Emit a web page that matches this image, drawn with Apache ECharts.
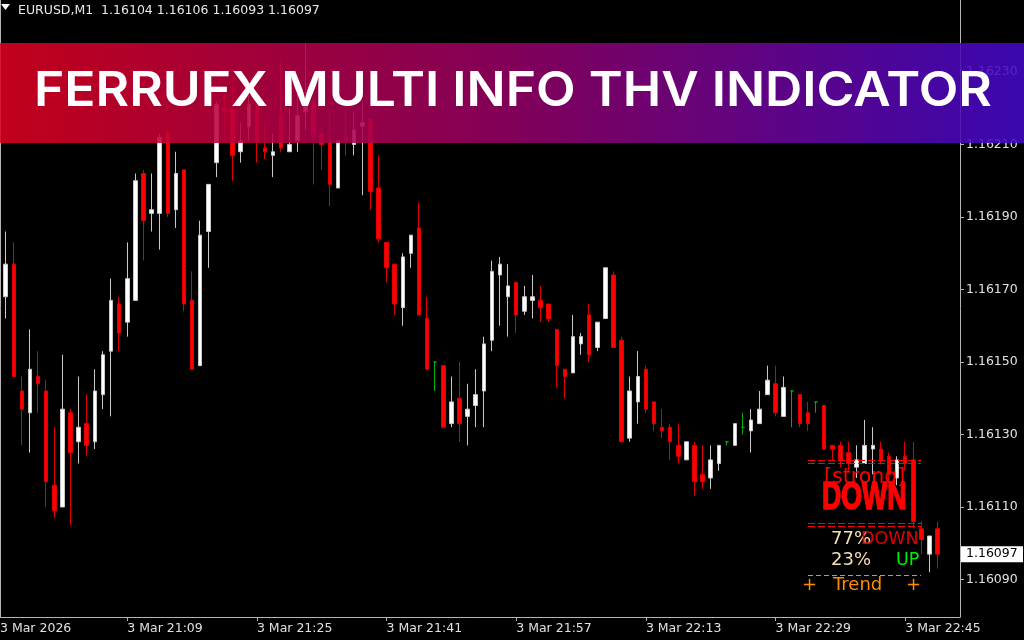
<!DOCTYPE html>
<html>
<head>
<meta charset="utf-8">
<script src="https://cdn.jsdelivr.net/npm/echarts@6/dist/echarts.min.js"></script>
<style>
html,body{margin:0;padding:0;background:#000;overflow:hidden;}
#c{width:1024px;height:640px;}
</style>
</head>
<body>
<div id="c"></div>
<script>
// ---------------- DATA ----------------
const symbol = 'EURUSD,M1';
const bannerTitle = 'FERRUFX MULTI INFO THV INDICATOR';

// one candle per minute, first candle = 3 Mar 20:54, last = 3 Mar 22:49
const opens = [
1.16168,1.16177,1.16142,1.16136,1.16146,1.16142,1.16116,1.16110,1.16136,1.16128,
1.16133,1.16128,1.16141,1.16153,1.16166,1.16161,1.16167,1.16202,1.16191,1.16191,
1.16213,1.16192,1.16203,1.16167,1.16149,1.16186,1.16205,1.16220,1.16220,1.16208,
1.16215,1.16220,1.16209,1.16207,1.16218,1.16208,1.16211,1.16219,1.16222,1.16213,
1.16211,1.16198,1.16212,1.16210,1.16215,1.16217,1.16198,1.16183,1.16177,1.16165,
1.16180,1.16187,1.16162,1.16150,1.16149,1.16133,1.16140,1.16135,1.16138,1.16142,
1.16156,1.16174,1.16168,1.16172,1.16164,1.16167,1.16167,1.16166,1.16159,1.16148,
1.16147,1.16155,1.16163,1.16154,1.16162,1.16174,1.16156,1.16129,1.16139,1.16148,
1.16139,1.16132,1.16132,1.16127,1.16123,1.16127,1.16119,1.16118,1.16122,1.16128,
1.16127,1.16132,1.16131,1.16133,1.16141,1.16144,1.16135,1.16142,1.16141,1.16136,
1.16139,1.16138,1.16127,1.16127,1.16125,1.16121,1.16122,1.16126,1.16126,1.16124,
1.16118,1.16124,1.16123,1.16104,1.16097,1.16104];
const highs = [
1.16186,1.16183,1.16146,1.16159,1.16153,1.16145,1.16132,1.16152,1.16137,1.16146,
1.16141,1.16148,1.16153,1.16173,1.16168,1.16183,1.16202,1.16203,1.16202,1.16213,
1.16214,1.16208,1.16203,1.16175,1.16189,1.16199,1.16222,1.16224,1.16227,1.16216,
1.16224,1.16221,1.16216,1.16213,1.16233,1.16220,1.16224,1.16238,1.16223,1.16215,
1.16220,1.16211,1.16223,1.16219,1.16222,1.16217,1.16207,1.16183,1.16177,1.16180,
1.16185,1.16194,1.16168,1.16150,1.16149,1.16146,1.16150,1.16144,1.16148,1.16157,
1.16178,1.16179,1.16177,1.16172,1.16171,1.16174,1.16171,1.16166,1.16159,1.16148,
1.16163,1.16158,1.16166,1.16161,1.16176,1.16175,1.16157,1.16146,1.16153,1.16149,
1.16139,1.16137,1.16133,1.16133,1.16128,1.16128,1.16127,1.16127,1.16127,1.16128,
1.16133,1.16136,1.16137,1.16142,1.16149,1.16149,1.16146,1.16142,1.16141,1.16139,
1.16139,1.16138,1.16127,1.16128,1.16128,1.16127,1.16134,1.16132,1.16128,1.16125,
1.16124,1.16128,1.16128,1.16106,1.16102,1.16106];
const lows = [
1.16162,1.16146,1.16127,1.16125,1.16136,1.16110,1.16107,1.16110,1.16105,1.16122,
1.16124,1.16126,1.16137,1.16135,1.16153,1.16157,1.16167,1.16178,1.16186,1.16181,
1.16190,1.16187,1.16164,1.16148,1.16149,1.16176,1.16201,1.16211,1.16200,1.16205,
1.16211,1.16205,1.16206,1.16201,1.16208,1.16208,1.16208,1.16214,1.16199,1.16203,
1.16193,1.16198,1.16207,1.16207,1.16196,1.16192,1.16183,1.16172,1.16163,1.16160,
1.16176,1.16163,1.16148,1.16142,1.16132,1.16132,1.16128,1.16127,1.16132,1.16132,
1.16153,1.16160,1.16157,1.16158,1.16163,1.16162,1.16161,1.16161,1.16143,1.16140,
1.16147,1.16152,1.16150,1.16153,1.16162,1.16154,1.16128,1.16128,1.16133,1.16136,
1.16131,1.16129,1.16123,1.16122,1.16123,1.16113,1.16115,1.16115,1.16120,1.16127,
1.16127,1.16130,1.16125,1.16133,1.16141,1.16135,1.16135,1.16132,1.16132,1.16131,
1.16136,1.16126,1.16123,1.16121,1.16120,1.16118,1.16122,1.16119,1.16122,1.16117,
1.16116,1.16120,1.16104,1.16097,1.16092,1.16093];
const closes = [
1.16177,1.16146,1.16137,1.16148,1.16144,1.16117,1.16109,1.16137,1.16125,1.16132,
1.16127,1.16142,1.16152,1.16167,1.16158,1.16173,1.16200,1.16189,1.16192,1.16212,
1.16191,1.16202,1.16166,1.16148,1.16185,1.16199,1.16221,1.16219,1.16207,1.16211,
1.16221,1.16211,1.16208,1.16208,1.16209,1.16210,1.16218,1.16221,1.16212,1.16210,
1.16199,1.16211,1.16211,1.16214,1.16216,1.16197,1.16184,1.16176,1.16166,1.16179,
1.16185,1.16163,1.16148,1.16150,1.16132,1.16139,1.16133,1.16137,1.16141,1.16155,
1.16175,1.16177,1.16171,1.16163,1.16168,1.16168,1.16165,1.16162,1.16149,1.16146,
1.16157,1.16157,1.16152,1.16161,1.16176,1.16154,1.16128,1.16142,1.16146,1.16137,
1.16133,1.16131,1.16128,1.16124,1.16128,1.16117,1.16117,1.16123,1.16127,1.16128,
1.16133,1.16132,1.16134,1.16137,1.16145,1.16136,1.16143,1.16142,1.16133,1.16133,
1.16139,1.16126,1.16126,1.16123,1.16122,1.16123,1.16127,1.16127,1.16123,1.16119,
1.16123,1.16122,1.16106,1.16101,1.16102,1.16097];

const priceTicks = [1.16090,1.16110,1.16130,1.16150,1.16170,1.16190,1.16210,1.16230];
const timeTickIndex = [15,31,47,63,79,95,111];
const timeTickLabels = ['3 Mar 21:09','3 Mar 21:25','3 Mar 21:41','3 Mar 21:57','3 Mar 22:13','3 Mar 22:29','3 Mar 22:45'];
const dateLabel = '3 Mar 2026';

const signalStrength = '[strong]';
const signalDirection = 'DOWN';
const probValues = ['77%','23%'];
const probDirections = ['DOWN','UP'];
const trendLabel = 'Trend';

// ---------------- CHART ----------------
const X_MIN = -0.703, X_MAX = 117.76;
const Y_MIN = 1.1607966, Y_MAX = 1.1624986;
const axisGray = '#b4b4b4';
const labelColor = '#e0e0e0';
const FONT = "'DejaVu Sans', Verdana, sans-serif";

const candleData = opens.map((o, i) => [i, o, closes[i], lows[i], highs[i]]);

const chart = echarts.init(document.getElementById('c'), null, {renderer: 'canvas'});

chart.setOption({
  backgroundColor: '#000000',
  animation: false,
  grid: {left: 0, right: 64, top: 0, bottom: 23, containLabel: false, outerBoundsMode: 'none'},
  xAxis: {
    type: 'value', min: X_MIN, max: X_MAX, position: 'bottom',
    axisLine: {show: true, onZero: false, lineStyle: {color: axisGray, width: 1}},
    axisTick: {show: true, length: 4, customValues: timeTickIndex, lineStyle: {color: axisGray}},
    axisLabel: {
      show: true, customValues: [X_MIN].concat(timeTickIndex),
      formatter: v => (Math.abs(v - X_MIN) < 1e-6 ? dateLabel : timeTickLabels[timeTickIndex.indexOf(Math.round(v))]),
      color: labelColor, fontFamily: FONT, fontSize: 12.5, align: 'left', margin: 5, hideOverlap: false,
      padding: [0, 0, 0, 0]
    },
    splitLine: {show: false}
  },
  yAxis: {
    type: 'value', position: 'right', min: Y_MIN, max: Y_MAX, scale: true,
    axisLine: {show: true, onZero: false, lineStyle: {color: axisGray, width: 1}},
    axisTick: {show: true, length: 4, customValues: priceTicks, lineStyle: {color: axisGray}},
    axisLabel: {
      show: true, customValues: priceTicks, formatter: v => v.toFixed(5),
      color: labelColor, fontFamily: FONT, fontSize: 12.5, margin: 6, hideOverlap: false
    },
    splitLine: {show: false}
  },
  series: [{
    type: 'candlestick',
    data: candleData,
    barWidth: 4,
    large: false,
    itemStyle: {
      color: '#ffffff', color0: '#ff0000',
      borderColor: '#c8c8c8', borderColor0: '#e00000', borderColorDoji: '#00b000',
      borderWidth: 1
    },
    emphasis: {disabled: true}
  }]
});

// ---- overlays ----
const last = opens.length - 1;
const f5 = v => v.toFixed(5);
const headerText = symbol + '  ' + [opens[last], highs[last], lows[last], closes[last]].map(f5).join(' ');
const lastY = chart.convertToPixel({yAxisIndex: 0}, closes[last]);

function measure(text, font) {
  const ctx = document.createElement('canvas').getContext('2d');
  ctx.font = font;
  return ctx.measureText(text).width;
}
const bannerFont = "600 48px Inter";
const bannerScale = 958 / measure(bannerTitle, bannerFont);
const downFont = "bold 38px 'Liberation Sans Narrow'";
const downScale = 86 / measure(signalDirection, downFont);

function txt(x, y, text, fill, fontSize, extra) {
  return Object.assign({
    type: 'text', x: x, y: y, z: 110,
    style: Object.assign({
      text: text, fill: fill, fontSize: fontSize, fontFamily: FONT,
      textAlign: 'left', textVerticalAlign: 'middle', align: 'left', verticalAlign: 'middle'
    }, (extra && extra.style) || {})
  }, extra && extra.el ? extra.el : {});
}
function dash(x1, x2, y, color, d) {
  return {type: 'line', z: 110, shape: {x1: x1, y1: y, x2: x2, y2: y},
    style: {stroke: color, lineWidth: 1, lineDash: d}};
}

const red = '#ff0000';
const orange = '#ff8c00';
chart.setOption({
  graphic: [
    // chart frame left edge
    {type: 'line', z: 50, shape: {x1: 0.5, y1: 0, x2: 0.5, y2: 617}, style: {stroke: axisGray, lineWidth: 1}},
    // header
    {type: 'polygon', z: 50, shape: {points: [[1, 4], [10, 4], [5.5, 10]]}, style: {fill: '#ffffff'}},
    txt(18, 10.5, headerText, '#e8e8e8', 12.5),
    // current price label
    {type: 'rect', z: 60, shape: {x: 961, y: lastY - 8, width: 62, height: 16}, style: {fill: '#ffffff'}},
    txt(966, lastY, f5(closes[last]), '#000000', 12.5),
    // indicator block
    dash(808, 921, 460.5, red, [7, 3]),
    dash(808, 921, 463.5, red, [7, 3]),
    txt(824, 478, signalStrength, red, 20.5),
    txt(822, 499, signalDirection, red, 38, {style: {fontFamily: "'Liberation Sans Narrow', sans-serif", fontWeight: 'bold', stroke: red, lineWidth: 1.6}, el: {scaleX: downScale}}),
    dash(808, 921, 523.5, red, [7, 3]),
    dash(808, 921, 526.5, red, [7, 3]),
    txt(831, 539, probValues[0], '#f5deb3', 18),
    txt(861, 539, probDirections[0], '#e00000', 17.5),
    txt(831, 560, probValues[1], '#f5deb3', 18),
    txt(896, 560, probDirections[1], '#00ee00', 17.5),
    dash(808, 921, 575.5, orange, [5, 3]),
    txt(802, 585, '+', orange, 18),
    txt(833, 585, trendLabel, orange, 18),
    txt(906, 585, '+', orange, 18),
    // banner
    {type: 'rect', z: 200, shape: {x: 0, y: 43, width: 1024, height: 100},
      style: {
        fill: {type: 'linear', x: 0, y: 0, x2: 1, y2: 0, colorStops: [
          {offset: 0, color: '#dc001f'}, {offset: 0.5, color: '#930064'}, {offset: 1, color: '#4208c8'}]},
        opacity: 0.88
      }},
    {type: 'text', z: 210, x: 513, y: 92, scaleX: bannerScale,
      style: {text: bannerTitle, fill: '#ffffff', fontSize: 48, fontWeight: 600, fontFamily: 'Inter, sans-serif',
        textAlign: 'center', textVerticalAlign: 'middle', align: 'center', verticalAlign: 'middle'}}
  ]
});
</script>
</body>
</html>
